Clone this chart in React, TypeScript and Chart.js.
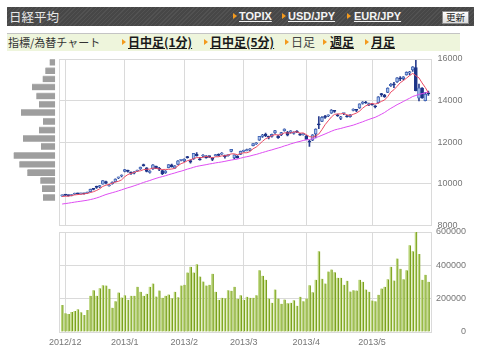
import React, { useEffect, useRef } from "react";
import { Chart, registerables } from "chart.js";
Chart.register(...registerables);

// ---- data ----
const priorCloses = [8933, 8929, 8841, 8928, 8946, 9007, 8975, 8975, 8972, 8837, 8757, 8676, 8661, 8665, 8830, 9024, 9153, 9142, 9222, 9366, 9388, 9423, 9308, 9400];

const opens = [9420, 9470, 9440, 9440, 9500, 9540, 9520, 9530, 9560, 9620, 9760, 9880, 9850, 9990, 10110, 9900, 10000, 10100, 10290, 10380,
  10600, 10640, 10560, 10510, 10620, 10720, 10890, 10770, 10550, 10720, 10850, 10760, 10640, 10540, 10780, 10920, 10760, 10930, 11130,
  11100, 11300, 11120, 11200, 11420, 11200, 11340, 11330, 11320, 11240, 11360, 11420, 11430, 11350, 11360, 11560, 11250, 11340, 11420,
  11560, 11590, 11630, 11830, 11920, 12100, 12280, 12380, 12260, 12280, 12450, 12300, 12350, 12560, 12480, 12470, 12430, 12520, 12400, 12370,
  12300, 12030, 12100, 12400, 12850, 13000, 13250, 13270, 13400, 13490, 13310, 13150, 13380, 13250, 13230, 13530, 13550, 13650, 13860, 13900, 13800,
  13850, 13750, 13900, 14300, 14270, 14400, 14720, 14800, 14900, 15100, 15060, 15240, 15330, 15480, 15590, 14120, 14600, 14000, 14340];
const highs = [9470, 9490, 9460, 9480, 9560, 9560, 9560, 9560, 9600, 9750, 9780, 9890, 9930, 10160, 10130, 9980, 10100, 10240, 10330, 10430,
  10700, 10660, 10580, 10590, 10660, 10810, 10950, 10780, 10640, 10930, 10860, 10800, 10660, 10640, 10930, 10950, 10880, 11120, 11180,
  11200, 11320, 11160, 11470, 11500, 11280, 11410, 11360, 11340, 11260, 11420, 11440, 11500, 11380, 11400, 11660, 11400, 11360, 11570,
  11620, 11670, 11690, 11940, 11990, 12290, 12380, 12440, 12300, 12390, 12570, 12350, 12480, 12650, 12520, 12560, 12500, 12560, 12430, 12420,
  12330, 12100, 12370, 12650, 13230, 13230, 13290, 13320, 13570, 13530, 13350, 13250, 13400, 13290, 13330, 13600, 13580, 13850, 13960, 13970, 13880,
  13870, 13760, 14200, 14350, 14300, 14620, 14820, 14880, 15110, 15150, 15150, 15380, 15410, 15630, 15942, 14800, 14630, 14400, 14460];
const lows = [9400, 9430, 9410, 9420, 9490, 9500, 9500, 9510, 9540, 9610, 9710, 9780, 9820, 9980, 10000, 9890, 9990, 10090, 10250, 10340,
  10580, 10560, 10460, 10480, 10600, 10700, 10850, 10580, 10520, 10700, 10730, 10640, 10440, 10500, 10770, 10800, 10740, 10920, 11100,
  11070, 11240, 11000, 11180, 11330, 11140, 11300, 11230, 11260, 11120, 11340, 11340, 11410, 11240, 11330, 11540, 11200, 11230, 11400,
  11530, 11580, 11600, 11820, 11900, 12090, 12230, 12270, 12160, 12250, 12430, 12180, 12320, 12530, 12310, 12440, 12390, 12460, 12330, 12340,
  12130, 11800, 12080, 12210, 12650, 12990, 13140, 13230, 13390, 13430, 13240, 13090, 13330, 13200, 13200, 13500, 13470, 13630, 13830, 13860, 13760,
  13780, 13650, 13880, 14200, 14150, 14380, 14680, 14620, 14870, 14960, 15000, 15220, 15230, 15400, 14470, 13980, 14100, 13980, 14250];
const closes = [9446, 9458, 9432, 9468, 9545, 9527, 9533, 9525, 9581, 9742, 9737, 9828, 9923, 10160, 10039, 9940, 10080, 10230, 10322, 10395,
  10688, 10599, 10508, 10578, 10652, 10801, 10879, 10600, 10609, 10913, 10747, 10709, 10486, 10620, 10926, 10824, 10866, 11113, 11138,
  11191, 11260, 11046, 11463, 11357, 11153, 11369, 11251, 11307, 11173, 11408, 11372, 11468, 11309, 11385, 11662, 11398, 11253, 11559,
  11606, 11652, 11683, 11932, 11968, 12283, 12349, 12314, 12239, 12381, 12560, 12220, 12468, 12635, 12338, 12546, 12471, 12493, 12336, 12397,
  12135, 12003, 12362, 12634, 12833, 13192, 13192, 13288, 13549, 13485, 13275, 13221, 13382, 13220, 13316, 13568, 13529, 13843, 13926, 13884, 13860,
  13799, 13694, 14180, 14285, 14191, 14607, 14782, 14758, 15096, 15037, 15138, 15360, 15381, 15627, 14483, 14612, 14142, 14311, 14326];

const volumes = [162000, 112000, 108000, 120000, 126000, 136000, 118000, 102000, 132000, 217000,
  251000, 217000, 263000, 281000, 279000, 259000, 146000, 185000, 237000, 207000,
  221000, 193000, 217000, 217000, 271000, 241000, 217000, 229000, 271000, 291000,
  213000, 249000, 205000, 217000, 225000, 203000, 241000, 209000, 279000, 283000,
  357000, 391000, 357000, 407000, 333000, 303000, 279000, 283000, 349000, 241000,
  193000, 205000, 203000, 251000, 247000, 271000, 199000,
  221000, 193000, 211000, 205000, 205000, 221000, 371000, 337000, 313000, 201000,
  175000, 255000, 201000, 169000, 195000, 173000, 175000, 191000, 157000, 211000,
  185000, 201000, 281000, 239000, 313000, 484000, 319000, 291000, 363000, 375000,
  359000, 325000, 325000, 283000, 307000, 243000, 251000, 249000, 313000, 301000,
  255000, 241000, 189000, 185000, 223000, 261000, 271000, 317000, 391000, 309000,
  441000, 379000, 317000, 371000, 520000, 484000, 600000, 468000, 313000, 343000, 301000];

const histPrices = [15840, 15430, 15040, 14650, 14220, 13820, 13430, 13000, 12580, 12180, 11800, 11360, 10940, 10540, 10160, 9770, 9340];
const histVolumes = [5.7, 10, 12.7, 23.3, 19, 16.3, 34.3, 12.3, 16.3, 32.3, 14.3, 41.7, 36, 28, 15, 13.3, 12.3];

const monthTickIdx = [1, 20, 39, 58, 78, 99];
const monthLabels = ["2012/12", "2013/1", "2013/2", "2013/3", "2013/4", "2013/5"];
const priceTicks = [8000, 10000, 12000, 14000, 16000];
const volumeTicks = [0, 200000, 400000, 600000];

// ---- helpers ----
function movingAvg(n: number) {
  const all = priorCloses.concat(closes);
  const off = priorCloses.length;
  return closes.map((_, i) => {
    let s = 0;
    for (let k = 0; k < n; k++) s += all[off + i - k];
    return s / n;
  });
}

const X_MIN = -1;
const X_MAX = closes.length;
const W = 480;
const H = 351;
const PLOT_L = 59;
const PLOT_R = 431.5;
const PRICE_TOP = 59;
const PRICE_BOTTOM = 225.5;
const VOL_TOP = 232;
const VOL_BOTTOM = 332;
const GRID = "#dadada";
const TICK_FONT = { family: "'Liberation Sans', Arial, sans-serif", size: 9 };
const plain = (v: any) => String(v);

function edgeTicks(extra: number[]) {
  return [X_MIN, ...extra, X_MAX].map((v) => ({ value: v }));
}

export default function App() {
  const priceRef = useRef<HTMLCanvasElement>(null);
  const volRef = useRef<HTMLCanvasElement>(null);
  const histRef = useRef<HTMLCanvasElement>(null);

  useEffect(() => {
    const ma5 = movingAvg(5);
    const ma25 = movingAvg(25);
    const up = (i: number) => closes[i] >= opens[i];

    const price = new Chart(priceRef.current!, {
      type: "bar",
      data: {
        datasets: [
          {
            type: "line",
            data: ma5.map((v, i) => ({ x: i, y: v })),
            borderColor: "#ec4a64",
            borderWidth: 1,
            pointRadius: 0,
            order: 0,
          } as any,
          {
            type: "line",
            data: ma25.map((v, i) => ({ x: i, y: v })),
            borderColor: "#de4ef2",
            borderWidth: 1,
            pointRadius: 0,
            order: 0,
          } as any,
          {
            type: "bar",
            data: opens.map((o, i) => ({ x: i, y: [o, closes[i]] })),
            backgroundColor: opens.map((_, i) => (up(i) ? "#a9c0ea" : "#1d3488")),
            borderColor: opens.map((_, i) => (up(i) ? "#4468b8" : "#1d3488")),
            borderWidth: 1,
            borderSkipped: false,
            barThickness: 3,
            minBarLength: 1,
            grouped: false,
            order: 1,
          } as any,
          {
            type: "bar",
            data: lows.map((l, i) => ({ x: i, y: [l, highs[i]] })),
            backgroundColor: "#2b3f90",
            barThickness: 1,
            borderSkipped: false,
            grouped: false,
            order: 2,
          } as any,
        ],
      },
      options: {
        responsive: false,
        animation: false,
        events: [],
        layout: { padding: { left: PLOT_L, top: PRICE_TOP, bottom: H - PRICE_BOTTOM, right: 0 } },
        plugins: { legend: { display: false }, tooltip: { enabled: false } },
        scales: {
          x: {
            type: "linear",
            min: X_MIN,
            max: X_MAX,
            offset: false,
            afterBuildTicks: (s: any) => { s.ticks = edgeTicks(monthTickIdx); },
            afterFit: (s: any) => { s.height = 0; },
            ticks: { display: false },
            grid: { color: GRID, drawTicks: false, offset: false },
            border: { color: GRID },
          },
          y: {
            position: "right",
            min: 8000,
            max: 16000,
            afterBuildTicks: (s: any) => { s.ticks = priceTicks.map((v) => ({ value: v })); },
            afterFit: (s: any) => { s.width = W - PLOT_R; },
            ticks: { font: TICK_FONT, color: "#777", padding: 6, crossAlign: "near", callback: plain },
            grid: { color: GRID, drawTicks: false },
            border: { color: GRID },
          },
        },
      } as any,
    });

    const vol = new Chart(volRef.current!, {
      type: "bar",
      data: {
        datasets: [
          {
            data: volumes.map((v, i) => ({ x: i, y: v })),
            backgroundColor: "#bcd67e",
            borderColor: "#7ba11e",
            borderWidth: { left: 0, right: 1.5, top: 0, bottom: 0 },
            borderSkipped: false,
            barThickness: 2.4,
          } as any,
        ],
      },
      options: {
        responsive: false,
        animation: false,
        events: [],
        layout: { padding: { left: PLOT_L, top: VOL_TOP, bottom: 0, right: 14 } },
        plugins: { legend: { display: false }, tooltip: { enabled: false } },
        scales: {
          x: {
            type: "linear",
            min: X_MIN,
            max: X_MAX,
            offset: false,
            afterBuildTicks: (s: any) => { s.ticks = edgeTicks(monthTickIdx); },
            afterFit: (s: any) => { s.height = H - VOL_BOTTOM; },
            ticks: {
              font: TICK_FONT,
              color: "#777",
              padding: 5,
              maxRotation: 0,
              autoSkip: false,
              callback: (v: any) => {
                const k = monthTickIdx.indexOf(v);
                return k >= 0 ? monthLabels[k] : "";
              },
            },
            grid: { color: GRID, drawTicks: false, offset: false },
            border: { color: GRID },
          },
          y: {
            position: "right",
            min: 0,
            max: 600000,
            afterBuildTicks: (s: any) => { s.ticks = volumeTicks.map((v) => ({ value: v })); },
            afterFit: (s: any) => { s.width = W - 14 - PLOT_R; },
            ticks: { font: TICK_FONT, color: "#777", padding: 4, crossAlign: "far", callback: plain },
            grid: { color: GRID, drawTicks: false },
            border: { color: GRID },
          },
        },
      } as any,
    });

    const hist = new Chart(histRef.current!, {
      type: "bar",
      data: {
        datasets: [
          {
            data: histPrices.map((p, i) => ({ x: histVolumes[i], y: p })),
            backgroundColor: "#9e9e9e",
            borderColor: "#b8b8b8",
            borderWidth: { top: 1, left: 0, right: 0, bottom: 0 },
            borderSkipped: false,
            barThickness: 6.5,
          } as any,
        ],
      },
      options: {
        indexAxis: "y",
        responsive: false,
        animation: false,
        events: [],
        layout: { padding: { left: 5, right: W - 55.3, top: PRICE_TOP, bottom: H - PRICE_BOTTOM } },
        plugins: { legend: { display: false }, tooltip: { enabled: false } },
        scales: {
          x: { type: "linear", reverse: true, min: 0, max: 50.3, display: false },
          y: { type: "linear", min: 8000, max: 16000, display: false, offset: false },
        },
      } as any,
    });

    return () => {
      price.destroy();
      vol.destroy();
      hist.destroy();
    };
  }, []);

  const jp = "'Noto Sans CJK JP', sans-serif";
  const tri = (x: number, y: number) => (
    <div
      style={{
        position: "absolute",
        left: x,
        top: y,
        width: 0,
        height: 0,
        borderTop: "3px solid transparent",
        borderBottom: "3px solid transparent",
        borderLeft: "4px solid #f39a1e",
      }}
    />
  );
  const abs = (x: number, y: number, extra: any) => ({ position: "absolute" as const, left: x, top: y, whiteSpace: "nowrap" as const, ...extra });

  const link1 = { color: "#f4f4f4", fontFamily: "'Liberation Sans', Arial, sans-serif", fontWeight: 700, fontSize: 11, textDecoration: "underline", lineHeight: "14px" };
  const link2 = { color: "#1a1a1a", fontFamily: jp, fontWeight: 700, fontSize: 12, textDecoration: "underline", lineHeight: "16px" };

  return (
    <div style={{ position: "absolute", left: 0, top: 0, width: W, height: H, background: "#fff", overflow: "hidden" }}>
      {/* header bar */}
      <div
        style={{
          position: "absolute",
          left: 7,
          top: 7,
          width: 467,
          height: 19,
          background: "repeating-linear-gradient(135deg, #525252 0px, #525252 1px, #474747 1px, #474747 3px)",
        }}
      />
      <div style={abs(9, 7, { color: "#e8e8e8", fontFamily: jp, fontSize: 12.5, lineHeight: "19px" })}>日経平均</div>
      {tri(233, 13)}
      <div style={abs(239, 9, link1)}>TOPIX</div>
      {tri(282, 13)}
      <div style={abs(288, 9, link1)}>USD/JPY</div>
      {tri(347, 13)}
      <div style={abs(354, 9, link1)}>EUR/JPY</div>
      <div
        style={abs(442, 11, {
          width: 25,
          height: 11,
          border: "1px solid #8a8a8a",
          background: "linear-gradient(#ffffff, #dcdcdc)",
          color: "#222",
          fontFamily: jp,
          fontSize: 9.5,
          lineHeight: "11px",
          textAlign: "center",
        })}
      >
        更新
      </div>

      {/* sub bar */}
      <div
        style={{
          position: "absolute",
          left: 7,
          top: 33,
          width: 453,
          height: 17,
          background: "#eef5dc",
          borderTop: "1px solid #c4c4c4",
        }}
      />
      <div style={abs(8, 34, { color: "#333", fontFamily: jp, fontSize: 11, lineHeight: "16px" })}>指標/為替チャート</div>
      {tri(122, 39)}
      <div style={abs(128, 34, link2)}>日中足(1分)</div>
      {tri(204, 39)}
      <div style={abs(210, 34, link2)}>日中足(5分)</div>
      {tri(285, 39)}
      <div style={abs(291, 34, { color: "#444", fontFamily: jp, fontSize: 12, lineHeight: "16px" })}>日足</div>
      {tri(323, 39)}
      <div style={abs(330, 34, link2)}>週足</div>
      {tri(365, 39)}
      <div style={abs(371, 34, link2)}>月足</div>

      <canvas ref={histRef} width={W} height={H} style={{ position: "absolute", left: 0, top: 0, width: W, height: H }} />
      <canvas ref={volRef} width={W} height={H} style={{ position: "absolute", left: 0, top: 0, width: W, height: H }} />
      <canvas ref={priceRef} width={W} height={H} style={{ position: "absolute", left: 0, top: 0, width: W, height: H }} />
    </div>
  );
}
